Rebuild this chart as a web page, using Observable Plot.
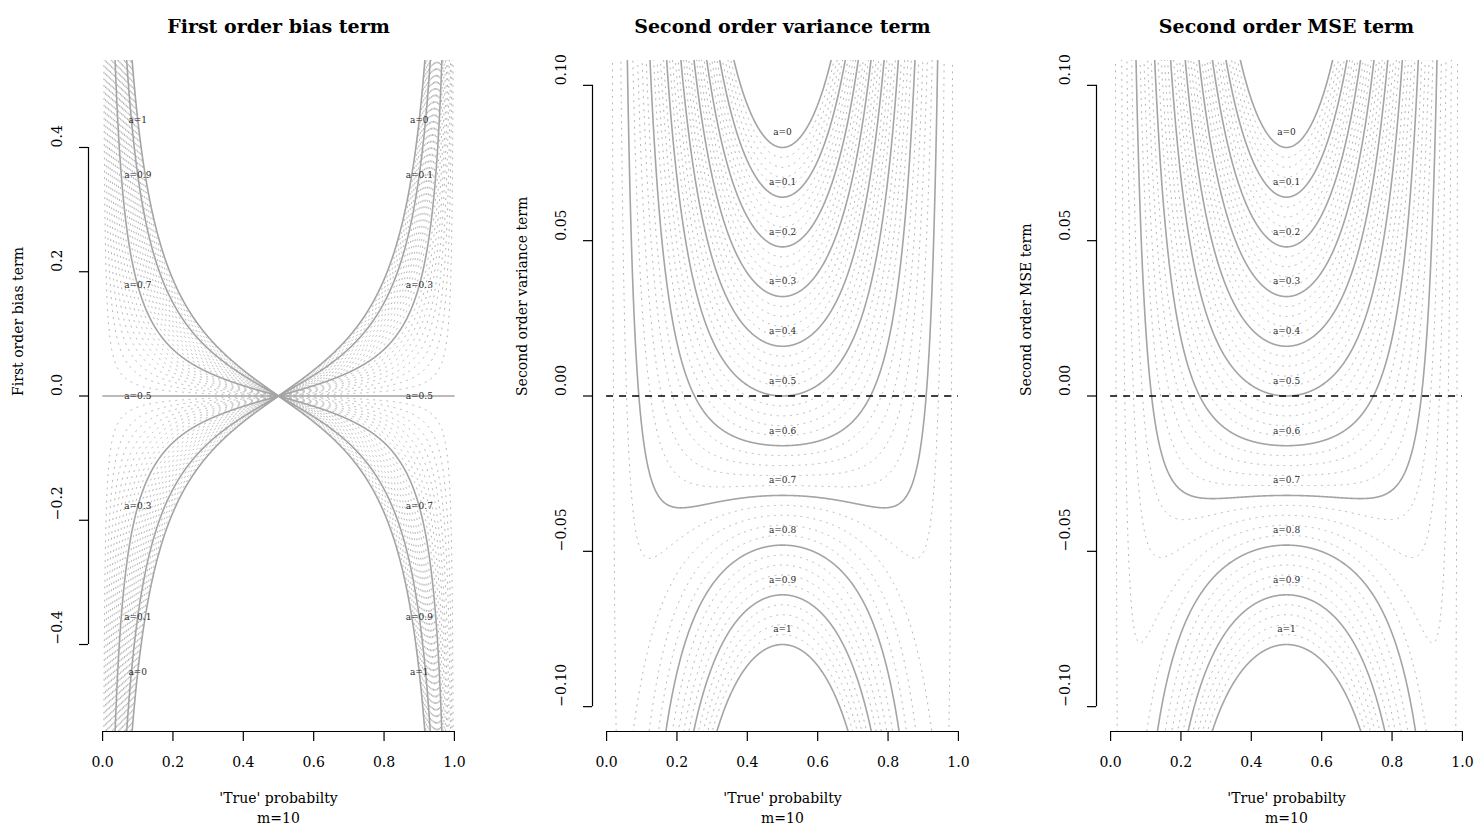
<!DOCTYPE html>
<html><head><meta charset="utf-8">
<script src="https://cdn.jsdelivr.net/npm/d3@7"></script>
<script src="https://cdn.jsdelivr.net/npm/@observablehq/plot@0.6"></script>
<style>
body{margin:0;background:#fff;}
#wrap{position:relative;width:1477px;height:834px;overflow:hidden;background:#fff;}
#wrap svg{position:absolute;top:0;}
</style></head><body><div id="wrap"></div>
<script>
// ---- chart values ----
const m = 10;                                   // sample size shown under each axis
const aValues = [0,0.02,0.04,0.06,0.08,0.1,0.12,0.14,0.16,0.18,0.2,0.22,0.24,0.26,0.28,0.3,
  0.32,0.34,0.36,0.38,0.4,0.42,0.44,0.46,0.48,0.5,0.52,0.54,0.56,0.58,0.6,0.62,0.64,0.66,0.68,0.7,
  0.72,0.74,0.76,0.78,0.8,0.82,0.84,0.86,0.88,0.9,0.92,0.94,0.96,0.98,1];
const solidA1 = [0,0.1,0.3,0.5,0.7,0.9,1];              // solid curves, panel 1
const solidA23 = [0,0.1,0.2,0.3,0.4,0.5,0.6,0.7,0.8,0.9,1]; // solid curves, panels 2-3
const pGrid = d3.range(1, 1000).map(i => i / 1000);   // 'True' probability grid
const xTicks = [0,0.2,0.4,0.6,0.8,1];
const xLim = [0,1];
const titles = ["First order bias term","Second order variance term","Second order MSE term"];
const yLabels = ["First order bias term","Second order variance term","Second order MSE term"];
const yLims = [[-0.5,0.5],[-0.1,0.1],[-0.1,0.1]];
const yTicks1 = [-0.4,-0.2,0,0.2,0.4];
const yTicks23 = [-0.1,-0.05,0,0.05,0.1];
const leftLabelA = [1,0.9,0.7,0.5,0.3,0.1,0];     // labelled at p = 0.1 (panel 1)
const rightLabelA = [0,0.1,0.3,0.5,0.7,0.9,1];    // labelled at p = 0.9 (panel 1)
const labelP = [0.1,0.9,0.5];
const xLabel = "'True' probabilty";
const mLabel = "m=10";

// terms of the logit estimator log((x+a)/(m-x+a)) as drawn in the figure
const bias1 = (a,p) => (0.5 - a) * (2*p - 1) / (m * p * (1 - p));
const var2 = (a,p) => { const q = 1 - p;
  return (2*(p**3 + q**3) - (p - q)**2 / 2 - 2*a*(p*p + q*q)) / (m*m*p*p*q*q); };
const mse2 = (a,p) => { const q = 1 - p;
  return var2(a,p) + (0.5 - a)**2 * (p - q)**2 / (m*m*p*p*q*q); };
const fns = [bias1, var2, mse2];

const minus = s => s.replace("-", "\u2212");

function panel(i) {
  const fn = fns[i];
  const solidSet = i === 0 ? solidA1 : solidA23;
  const isSolid = a => solidSet.some(s => Math.abs(s - a) < 1e-9);
  const [y0, y1] = yLims[i];
  const ey = (y1 - y0) * 0.04, ex = (xLim[1] - xLim[0]) * 0.04;
  const yDomain = [y0 - ey, y1 + ey], xDomain = [xLim[0] - ex, xLim[1] + ex];
  const cap = (y1 - y0) * 2;
  const rows = [];
  for (const a of aValues) for (const p of pGrid) {
    const v = fn(a, p);
    if (Math.abs(v) <= cap) rows.push({a, p, v, solid: isSolid(a)});
  }
  const yTicks = i === 0 ? yTicks1 : yTicks23;
  const fmt = i === 0 ? (d => minus(d.toFixed(1))) : (d => minus(d.toFixed(2)));
  let labels, labelDy;
  if (i === 0) {
    labels = leftLabelA.map(a => ({a, p: labelP[0], v: fn(a, labelP[0])}))
      .concat(rightLabelA.map(a => ({a, p: labelP[1], v: fn(a, labelP[1])})));
    labelDy = 0;
  } else {
    labels = solidA23.map(a => ({a, p: labelP[2], v: fn(a, labelP[2])}));
    labelDy = -15;
  }
  const marks = [
    Plot.line(rows.filter(d => !d.solid), {x: "p", y: "v", z: "a", stroke: "#b4b4b4", strokeWidth: 1, strokeDasharray: "1.1,5.5", clip: true}),
    Plot.line(rows.filter(d => d.solid), {x: "p", y: "v", z: "a", stroke: "#a4a4a4", strokeWidth: 1.6, clip: true}),
  ];
  if (i > 0) marks.push(Plot.ruleY([0], {x1: xLim[0], x2: xLim[1], stroke: "#000", strokeWidth: 1.5, strokeDasharray: "7,6"}));
  marks.push(
    Plot.text(labels, {x: "p", y: "v", text: d => "a=" + d.a, dy: labelDy, fontSize: 9, fill: "#2a2a2a"}),
    Plot.ruleY([yDomain[0]], {x1: xTicks[0], x2: xTicks[xTicks.length-1], stroke: "#000", strokeWidth: 1.2}),
    Plot.ruleX([xDomain[0]], {y1: yTicks[0], y2: yTicks[yTicks.length-1], stroke: "#000", strokeWidth: 1.2}),
    Plot.axisX({ticks: xTicks, tickSize: 10, tickPadding: 16, tickFormat: d => d.toFixed(1), fontSize: 14, strokeWidth: 1.2, label: null}),
    Plot.axisY({ticks: yTicks, tickSize: 9, tickFormat: () => "", strokeWidth: 1.2, label: null}),
    Plot.text(yTicks, {frameAnchor: "left", y: d => d, text: fmt, dx: -31, rotate: -90, fontSize: 14, fill: "#000"}),
    Plot.text([titles[i]], {frameAnchor: "top", text: d => d, dy: -41, fontSize: 19, fontWeight: "bold", fill: "#000"}),
    Plot.text([yLabels[i]], {frameAnchor: "left", text: d => d, dx: -70, rotate: -90, fontSize: 14, fill: "#000"}),
    Plot.text([xLabel], {frameAnchor: "bottom", text: d => d, dy: 71, fontSize: 14, fill: "#000"}),
    Plot.text([mLabel], {frameAnchor: "bottom", text: d => d, dy: 91, fontSize: 14, fill: "#000"})
  );
  const svg = Plot.plot({
    width: 480, height: 834,
    marginLeft: 88, marginRight: 12, marginTop: 60, marginBottom: 103,
    x: {domain: xDomain, label: null}, y: {domain: yDomain, label: null},
    style: {fontFamily: "'DejaVu Serif', serif", fontSize: "14px", background: "transparent", color: "#000"},
    marks
  });
  svg.style.left = (504 * i) + "px";
  return svg;
}
const wrap = document.getElementById("wrap");
for (let i = 0; i < 3; i++) wrap.appendChild(panel(i));
</script></body></html>
